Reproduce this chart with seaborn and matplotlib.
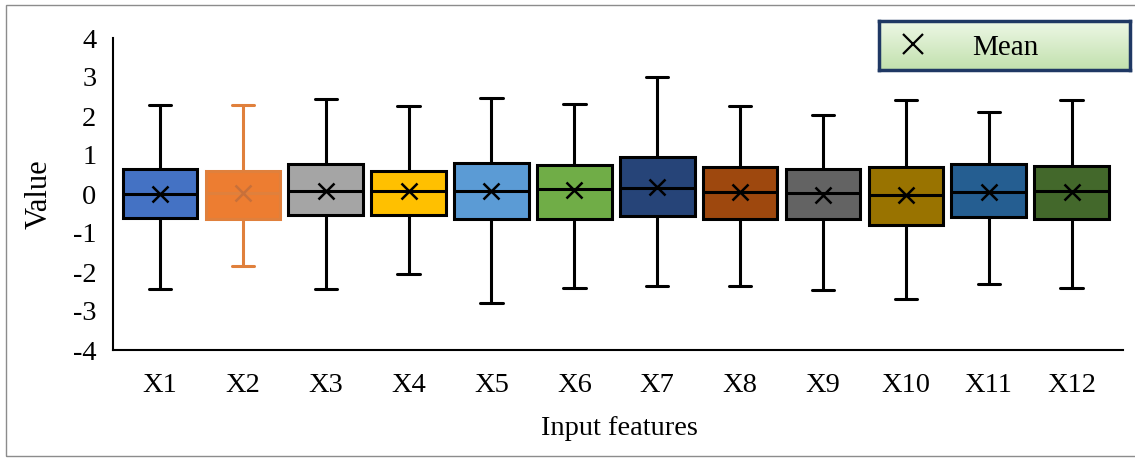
import numpy as np
import pandas as pd
import matplotlib
matplotlib.use("Agg")
import matplotlib.pyplot as plt
from matplotlib.patches import Rectangle
import seaborn as sns

# Summary statistics of each standardized input feature
features = ["X1", "X2", "X3", "X4", "X5", "X6", "X7", "X8", "X9", "X10", "X11", "X12"]
whisker_low = [-2.44, -1.84, -2.44, -2.04, -2.80, -2.40, -2.35, -2.37, -2.47, -2.69, -2.30, -2.42]
q1 = [-0.62, -0.64, -0.53, -0.55, -0.65, -0.63, -0.56, -0.63, -0.63, -0.79, -0.58, -0.65]
median = [0.00, 0.03, 0.08, 0.07, 0.08, 0.12, 0.15, 0.04, 0.02, -0.03, 0.05, 0.08]
q3 = [0.64, 0.59, 0.76, 0.58, 0.79, 0.74, 0.96, 0.68, 0.63, 0.69, 0.76, 0.72]
whisker_high = [2.29, 2.27, 2.43, 2.25, 2.46, 2.31, 3.00, 2.25, 2.02, 2.42, 2.09, 2.41]
means = [0.00, 0.02, 0.08, 0.07, 0.08, 0.10, 0.19, 0.06, -0.02, -0.03, 0.04, 0.04]

box_colors = ["#4472C4", "#ED7D31", "#A5A5A5", "#FFC000", "#5B9BD5", "#70AD47",
              "#264478", "#9E480E", "#636363", "#997300", "#255E91", "#43682B"]
mean_colors = ["#000000", "#C8703A"] + ["#000000"] * 10
y_ticks = [-4, -3, -2, -1, 0, 1, 2, 3, 4]

# Five values per feature reproduce min / Q1 / median / Q3 / max exactly
rows = []
for f, lo, a, m, b, hi in zip(features, whisker_low, q1, median, q3, whisker_high):
    for v in (lo, a, m, b, hi):
        rows.append({"feature": f, "value": v})
df = pd.DataFrame(rows)
mean_df = pd.DataFrame({"feature": features, "mean": means})

sns.set_theme(style="white")
plt.rcParams["font.family"] = ["Liberation Serif", "DejaVu Serif"]
plt.rcParams["axes.unicode_minus"] = False

fig = plt.figure(figsize=(11.35, 4.58), dpi=100)
ax = fig.add_axes([113 / 1135, 1 - 350 / 458, (1123 - 113) / 1135, (350 - 38) / 458])

sns.boxplot(data=df, x="feature", y="value", hue="feature", order=features,
            hue_order=features, palette=box_colors, legend=False, width=0.9,
            whis=(0, 100), linecolor="black", linewidth=2.2, showfliers=False,
            capwidths=0.27, saturation=1, ax=ax)

# Second feature drawn with orange outlines
x2_line = "#E0803C"
for patch in ax.patches:
    verts = patch.get_path().vertices
    if 0.5 < verts[:, 0].mean() < 1.5:
        patch.set_edgecolor(x2_line)
for line in ax.lines:
    xd = np.asarray(line.get_xdata(), dtype=float)
    if xd.size and np.all((xd > 0.5) & (xd < 1.5)):
        line.set_color(x2_line)

sns.pointplot(data=mean_df, x="feature", y="mean", hue="feature", order=features,
              hue_order=features, palette=mean_colors, linestyle="none", marker="x",
              markersize=12, markeredgewidth=1.8, errorbar=None, legend=False,
              ax=ax, zorder=5)

ax.set_xlim(-0.567, 11.62)
ax.set_ylim(-4, 4)
ax.set_yticks(y_ticks)
ax.set_yticklabels([str(t) for t in y_ticks])
ax.set_xticks(range(len(features)))
ax.set_xticklabels(features)
ax.tick_params(axis="both", direction="in", length=7, width=1.3, color="black",
               labelsize=20.5, labelcolor="black", pad=12)
ax.tick_params(axis="x", length=6, pad=16.5)
for side in ("top", "right"):
    ax.spines[side].set_visible(False)
for side in ("left", "bottom"):
    ax.spines[side].set_color("black")
    ax.spines[side].set_linewidth(1.5)

ax.set_xlabel("Input features", fontsize=20.5, color="black")
ax.set_ylabel("Value", fontsize=22, color="black")
ax.xaxis.set_label_coords(0.501, -0.2115)
ax.yaxis.set_label_coords(-0.0584, 0.5)

# Legend box with a soft green gradient fill
lax = fig.add_axes([879 / 1135, 1 - 70 / 458, (1130 - 879) / 1135, (70 - 21) / 458])
grad = np.linspace(0, 1, 64)[:, None]
top_c = np.array([0.93, 0.97, 0.90])
bot_c = np.array([0.76, 0.88, 0.68])
img = top_c[None, None, :] * (1 - grad[..., None]) + bot_c[None, None, :] * grad[..., None]
lax.imshow(np.repeat(img, 4, axis=1), aspect="auto", extent=(0, 1, 0, 1), origin="upper")
lax.set_xlim(0, 1)
lax.set_ylim(0, 1)
lax.set_xticks([])
lax.set_yticks([])
for s in lax.spines.values():
    s.set_color("#1F3864")
    s.set_linewidth(2.5)
lax.plot([0.135], [0.53], marker="x", markersize=15, markeredgewidth=1.6,
         color="black", linestyle="none")
lax.text(0.505, 0.44, "Mean", ha="center", va="center", fontsize=21, color="black")

# Thin frame around the whole figure
fig.patches.append(Rectangle((6 / 1135, 2 / 458), 1.0, 1 - 7 / 458,
                             transform=fig.transFigure, fill=False,
                             edgecolor="#8c8c8c", linewidth=1.0))

fig.savefig("out.png", dpi=100)
